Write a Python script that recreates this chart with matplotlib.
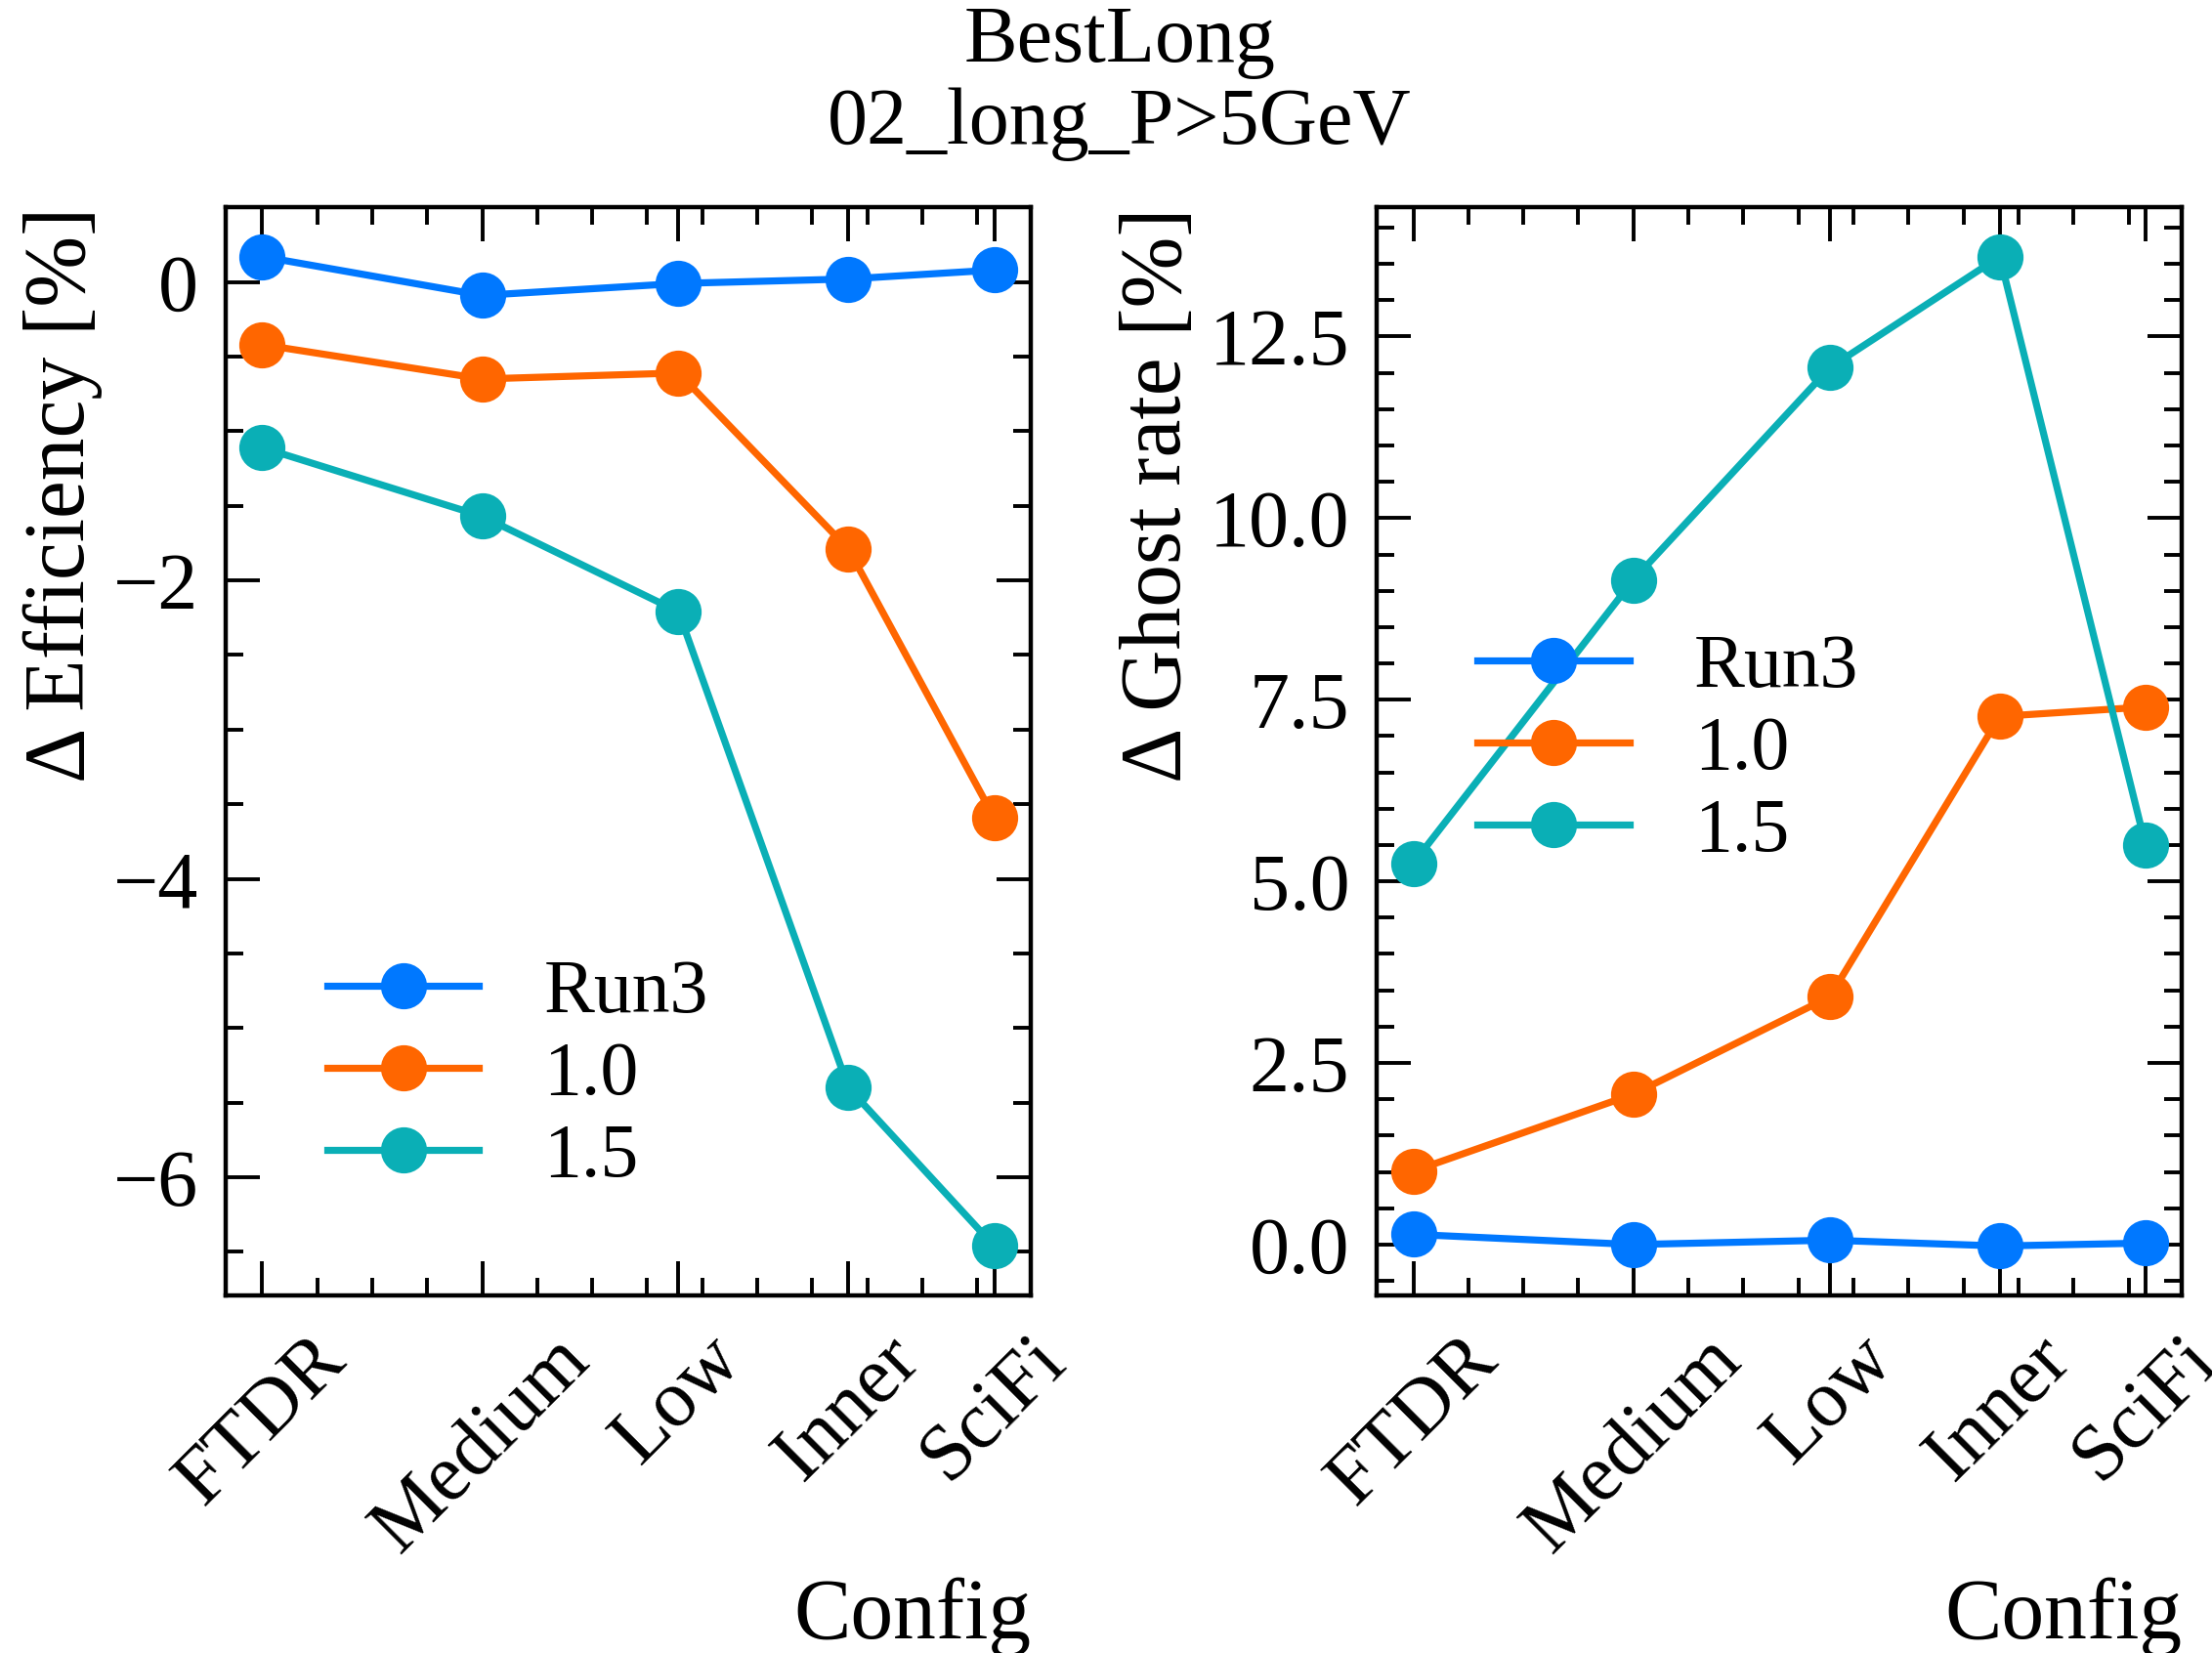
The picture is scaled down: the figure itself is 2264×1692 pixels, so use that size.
#import libraries

import matplotlib
matplotlib.use("Agg")
import matplotlib.pyplot as plt
from matplotlib.ticker import MultipleLocator

#data

configs = ["FTDR", "Medium", "Low", "Inner", "SciFi"]
config_pos = [0.0, 4.0, 7.57, 10.66, 13.31]
series = ["Run3", "1.0", "1.5"]

eff_run3 = [0.17, -0.09, -0.01, 0.02, 0.08]
eff_10 = [-0.42, -0.65, -0.61, -1.79, -3.59]
eff_15 = [-1.11, -1.57, -2.21, -5.40, -6.46]

ghost_run3 = [0.14, 0.0, 0.06, -0.02, 0.02]
ghost_10 = [1.01, 2.07, 3.41, 7.27, 7.40]
ghost_15 = [5.25, 9.15, 12.07, 13.60, 5.50]

colors = ["#0078FF", "#FF6600", "#0AAFB6"]

#style

plt.rcParams["font.family"] = ["Liberation Serif", "DejaVu Serif"]
plt.rcParams["font.size"] = 28
plt.rcParams["axes.linewidth"] = 1.6

fig = plt.figure(figsize=(11.32, 8.46), dpi=200)
ax1 = fig.add_axes([0.102, 0.2163, 0.364, 0.6584])
ax2 = fig.add_axes([0.6224, 0.2163, 0.3641, 0.6584])

def style_axis(ax):
    ax.tick_params(which="both", direction="in", top=True, right=True, labelsize=29.5)
    ax.tick_params(which="major", length=12.5, width=1.4, pad=10)
    ax.tick_params(which="minor", length=6.5, width=1.4)
    ax.xaxis.set_minor_locator(MultipleLocator(1))

#left panel: efficiency

for vals, lab, c in zip([eff_run3, eff_10, eff_15], series, colors):
    ax1.plot(config_pos, vals, "o-", color=c, lw=2.6, ms=16, label=lab)
style_axis(ax1)
ax1.set_xticks(config_pos, configs, rotation=45)
ax1.yaxis.set_major_locator(MultipleLocator(2))
ax1.yaxis.set_minor_locator(MultipleLocator(0.5))
ax1.set_ylabel("Δ Efficiency [%]", loc="top", fontsize=31.5)
ax1.set_xlabel("Config", loc="right", fontsize=31.5)
ax1.legend(frameon=False, loc="upper left", bbox_to_anchor=(0.126, 0.309),
           borderaxespad=0, borderpad=0, labelspacing=0.16, handlelength=2.0,
           handletextpad=0.85)

#right panel: ghost rate

for vals, lab, c in zip([ghost_run3, ghost_10, ghost_15], series, colors):
    ax2.plot(config_pos, vals, "o-", color=c, lw=2.6, ms=16, label=lab)
style_axis(ax2)
ax2.set_xticks(config_pos, configs, rotation=45)
ax2.yaxis.set_major_locator(MultipleLocator(2.5))
ax2.yaxis.set_minor_locator(MultipleLocator(0.5))
ax2.set_ylabel("Δ Ghost rate [%]", loc="top", fontsize=31.5)
ax2.set_xlabel("Config", loc="right", fontsize=31.5)
ax2.legend(frameon=False, loc="upper left", bbox_to_anchor=(0.125, 0.608),
           borderaxespad=0, borderpad=0, labelspacing=0.16, handlelength=2.0,
           handletextpad=0.85)

fig.suptitle("BestLong\n02_long_P>5GeV", x=0.506, y=0.997, va="top",
             fontsize=29.5, linespacing=1.15)

fig.savefig("out.png", dpi=200)
